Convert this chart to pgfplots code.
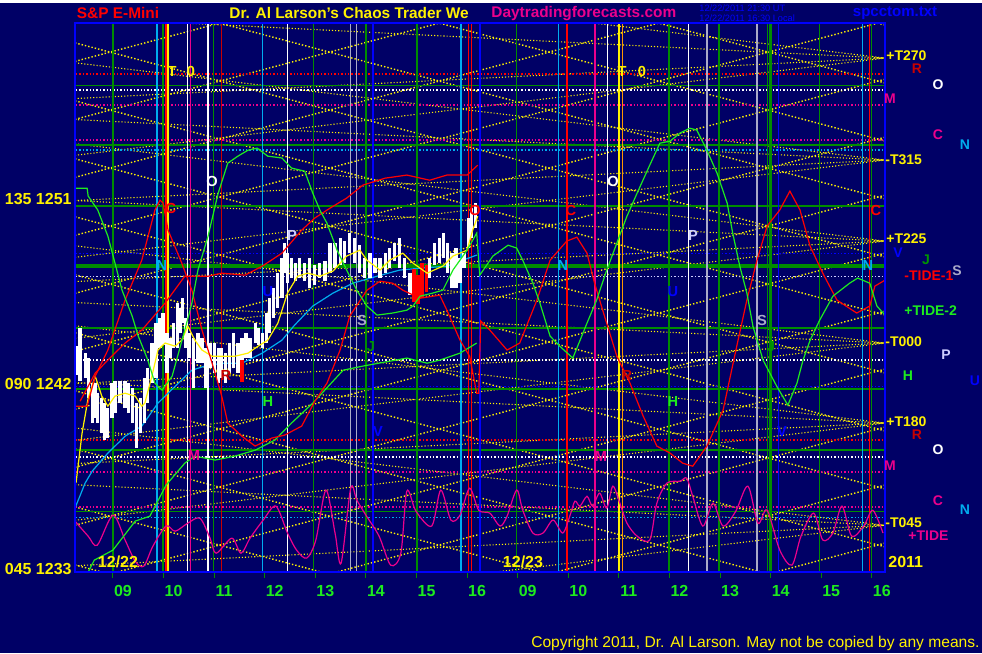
\documentclass[border=0pt]{standalone}
\usepackage{pgfplots}
\pgfplotsset{compat=1.18}
\usepackage{fontspec}
\setmainfont{Liberation Sans}

\definecolor{bg}{RGB}{0,0,102}
\definecolor{frameblue}{RGB}{0,0,255}
\definecolor{dkgreen}{RGB}{0,140,0}
\definecolor{ltgreen}{RGB}{30,235,30}
\definecolor{dkred}{RGB}{200,0,0}
\definecolor{lav}{RGB}{205,205,255}
\definecolor{greyv}{RGB}{170,170,200}
\definecolor{orangev}{RGB}{255,150,0}
\definecolor{jgreen}{RGB}{0,150,0}

\newcommand\fs[1]{\fontsize{#1}{#1}\selectfont\bfseries}
\newcommand\fn[1]{\fontsize{#1}{#1}\selectfont}

\begin{document}
\begin{tikzpicture}
\begin{scope}[x=0.5pt,y=-0.5pt]
\useasboundingbox (0,0) rectangle (982,650);
\fill[bg] (0,0) rectangle (982,650);
\end{scope}

\begin{axis}[
  at={(37.5pt,-284.5pt)}, anchor=south west,
  scale only axis, width=405pt, height=274.5pt,
  xmin=8.25, xmax=24.26, ymin=1232.86, ymax=1259.56,
  axis background/.style={fill=bg},
  axis line style={frameblue, line width=1pt},
  axis on top,
  unbounded coords=jump,
  xtick={9,...,24},
  xticklabels={09,10,11,12,13,14,15,16,09,10,11,12,13,14,15,16},
  xtick pos=bottom, tick align=outside, major tick length=3pt,
  x tick style={dkgreen, line width=0.5pt},
  xticklabel style={text=ltgreen, font=\fs{8}, xshift=5pt},
  ytick={1233,1242,1251},
  yticklabels={045 1233,090 1242,135 1251},
  ytick pos=left, y tick style={draw=none},
  yticklabel style={text=yellow, font=\fs{8}, inner sep=0pt, xshift=1.5pt},
  dotline/.style={densely dotted, line width=0.7pt},
]

% yellow lattice, falling lines
\addplot[yellow, dotline] table {
t p
8.25 1269.88
24.26 1259.47
nan nan
8.25 1267.06
24.26 1256.65
nan nan
8.25 1264.24
24.26 1253.83
nan nan
8.25 1261.42
24.26 1251.01
nan nan
8.25 1258.60
24.26 1248.19
nan nan
8.25 1255.78
24.26 1245.37
nan nan
8.25 1252.96
24.26 1242.55
nan nan
8.25 1250.14
24.26 1239.73
nan nan
8.25 1247.32
24.26 1236.91
nan nan
8.25 1244.50
24.26 1234.09
nan nan
8.25 1241.68
24.26 1231.27
nan nan
8.25 1238.85
24.26 1228.44
nan nan
8.25 1236.03
24.26 1225.62
nan nan
8.25 1233.21
24.26 1222.80
};
% yellow lattice, rising lines
\addplot[yellow, dotline] table {
t p
8.25 1257.70
24.26 1268.11
nan nan
8.25 1254.88
24.26 1265.29
nan nan
8.25 1252.06
24.26 1262.47
nan nan
8.25 1249.24
24.26 1259.65
nan nan
8.25 1246.42
24.26 1256.83
nan nan
8.25 1243.60
24.26 1254.01
nan nan
8.25 1240.78
24.26 1251.19
nan nan
8.25 1237.96
24.26 1248.37
nan nan
8.25 1235.14
24.26 1245.55
nan nan
8.25 1232.32
24.26 1242.73
nan nan
8.25 1229.50
24.26 1239.91
nan nan
8.25 1226.68
24.26 1237.09
nan nan
8.25 1223.86
24.26 1234.27
};
% fans into the right-hand T levels
\addplot[yellow, densely dotted, line width=0.55pt] table {
t p
8.25 1262.59
24.26 1257.86
8.25 1253.13
nan nan
8.25 1259.83
24.26 1257.86
8.25 1255.89
nan nan
8.25 1257.63
24.26 1252.90
8.25 1248.17
nan nan
8.25 1254.87
24.26 1252.90
8.25 1250.93
nan nan
8.25 1253.69
24.26 1248.96
8.25 1244.23
nan nan
8.25 1250.93
24.26 1248.96
8.25 1246.99
nan nan
8.25 1248.73
24.26 1244.00
8.25 1239.27
nan nan
8.25 1245.97
24.26 1244.00
8.25 1242.03
nan nan
8.25 1244.84
24.26 1240.11
8.25 1235.38
nan nan
8.25 1242.08
24.26 1240.11
8.25 1238.14
nan nan
8.25 1239.87
24.26 1235.14
8.25 1230.41
nan nan
8.25 1237.11
24.26 1235.14
8.25 1233.17
};

% horizontal levels
\addplot[dkgreen, line width=0.7pt] table {
t p
8 1256.54
25 1256.54
nan nan
8 1253.63
25 1253.63
nan nan
8 1250.66
25 1250.66
nan nan
8 1247.79
25 1247.79
nan nan
8 1247.69
25 1247.69
nan nan
8 1244.73
25 1244.73
nan nan
8 1241.76
25 1241.76
nan nan
8 1238.79
25 1238.79
nan nan
8 1235.82
25 1235.82
};
\addplot[red, dotline] table {
t p
8 1257.08
25 1257.08
nan nan
8 1239.28
25 1239.28
};
\addplot[white, dotline] table {
t p
8 1256.30
25 1256.30
nan nan
8 1243.17
25 1243.17
nan nan
8 1238.45
25 1238.45
};
\addplot[magenta, dotline] table {
t p
8 1255.57
25 1255.57
nan nan
8 1253.87
25 1253.87
nan nan
8 1237.72
25 1237.72
nan nan
8 1236.02
25 1236.02
};
\addplot[cyan, dotline] table {
t p
8 1253.38
25 1253.38
nan nan
8 1235.53
25 1235.53
};
\addplot[frameblue, dotline] table {
t p
8 1248.37
25 1248.37
nan nan
8 1241.90
25 1241.90
};
\addplot[lav, dotline] table {
t p
8 1247.25
25 1247.25
};

% vertical time lines
\addplot[dkgreen, line width=0.6pt] table {
t p
9.00 1230
9.00 1262
nan nan
9.99 1230
9.99 1262
nan nan
10.98 1230
10.98 1262
nan nan
12.97 1230
12.97 1262
nan nan
15.01 1230
15.01 1262
nan nan
16.98 1230
16.98 1262
nan nan
19.99 1230
19.99 1262
nan nan
20.98 1230
20.98 1262
nan nan
21.94 1230
21.94 1262
nan nan
22.96 1230
22.96 1262
nan nan
24.00 1230
24.00 1262
};
\addplot[dkgreen, line width=1.2pt] table {
t p
14.00 1230
14.00 1262
nan nan
22.00 1230
22.00 1262
};
\addplot[cyan, line width=0.6pt] table {
t p
9.87 1230
9.87 1262
nan nan
11.96 1230
11.96 1262
nan nan
15.88 1230
15.88 1262
nan nan
17.81 1230
17.81 1262
nan nan
23.82 1230
23.82 1262
};
\addplot[red, line width=0.6pt] table {
t p
10.05 1230
10.05 1262
nan nan
16.02 1230
16.02 1262
nan nan
16.08 1230
16.08 1262
nan nan
23.96 1230
23.96 1262
};
\addplot[red, line width=1.2pt] table {
t p
17.97 1230
17.97 1262
};
\addplot[dkred, line width=0.5pt] table {
t p
11.15 1230
11.15 1262
};
\addplot[yellow, line width=0.8pt] table {
t p
10.09 1230
10.09 1262
nan nan
19.00 1230
19.00 1262
};
\addplot[orangev, line width=0.5pt] table {
t p
19.08 1230
19.08 1262
};
\addplot[magenta, line width=0.6pt] table {
t p
10.54 1230
10.54 1262
nan nan
18.53 1230
18.53 1262
};
\addplot[white, line width=0.6pt] table {
t p
10.48 1230
10.48 1262
nan nan
10.88 1230
10.88 1262
nan nan
12.45 1230
12.45 1262
nan nan
18.78 1230
18.78 1262
nan nan
20.38 1230
20.38 1262
};
\addplot[greyv, line width=0.6pt] table {
t p
13.70 1230
13.70 1262
nan nan
13.82 1230
13.82 1262
nan nan
20.74 1230
20.74 1262
nan nan
21.73 1230
21.73 1262
};
\addplot[frameblue, line width=0.6pt] table {
t p
14.14 1230
14.14 1262
nan nan
22.16 1230
22.16 1262
};
\addplot[frameblue, line width=1pt] table {
t p
16.25 1230
16.25 1262
};

% magenta cycle
\addplot[magenta, line width=0.6pt, smooth, tension=0.5] table {
t p
8.25 1235.34
8.51 1234.61
8.69 1234.17
9.00 1235.63
9.24 1234.42
9.44 1233.39
9.61 1233.15
9.79 1234.12
10.05 1235.10
10.23 1234.85
10.48 1235.24
10.72 1235.48
10.92 1234.51
11.04 1233.78
11.35 1234.51
11.53 1233.78
11.71 1234.51
11.97 1235.39
12.22 1236.07
12.45 1234.76
12.63 1233.93
12.83 1233.54
13.01 1234.42
13.21 1236.85
13.39 1234.76
13.51 1233.30
13.70 1236.94
13.82 1236.36
14.00 1235.63
14.26 1234.61
14.49 1233.20
14.69 1233.78
14.81 1236.80
14.99 1235.82
15.30 1235.10
15.48 1236.85
15.68 1235.39
15.86 1235.63
16.05 1236.94
16.23 1235.87
16.45 1235.73
16.65 1235.10
16.79 1235.58
16.98 1236.85
17.10 1235.87
17.30 1234.76
17.50 1234.76
17.70 1235.39
17.89 1234.76
18.03 1235.58
18.13 1236.31
18.23 1236.07
18.37 1236.55
18.48 1236.07
18.62 1236.70
18.76 1235.97
18.88 1237.04
19.02 1236.21
19.16 1235.24
19.36 1234.61
19.61 1234.42
19.75 1236.21
19.95 1237.19
20.21 1237.28
20.34 1237.43
20.46 1236.55
20.66 1235.10
20.86 1236.21
21.06 1235.10
21.31 1235.82
21.55 1237.04
21.75 1235.24
21.93 1235.87
22.18 1233.93
22.42 1233.20
22.60 1234.61
22.85 1235.73
23.03 1234.42
23.23 1234.76
23.41 1236.07
23.60 1234.61
23.84 1235.10
24.02 1235.87
24.22 1234.76
};

% lower green curve
\addplot[ltgreen, line width=0.6pt] table {
t p
8.51 1232.86
8.63 1233.44
9.00 1233.93
9.44 1235.34
9.73 1235.58
10.05 1237.09
10.42 1238.16
10.62 1238.50
11.02 1238.31
11.41 1238.50
11.81 1238.79
12.20 1239.28
12.53 1240.11
12.95 1241.08
13.55 1242.68
13.94 1242.88
14.81 1243.27
15.21 1243.02
15.46 1243.17
15.86 1243.51
16.19 1244.00
};
% cyan average
\addplot[cyan, line width=0.6pt] table {
t p
8.25 1235.97
8.45 1237.19
8.59 1237.77
8.90 1238.65
9.24 1239.47
9.57 1239.96
9.89 1241.08
10.23 1241.90
10.56 1242.68
10.88 1242.93
11.21 1243.02
11.55 1243.02
11.95 1243.51
12.34 1244.14
12.59 1244.87
12.95 1245.80
13.35 1246.43
13.74 1246.91
14.22 1247.25
14.67 1247.55
15.07 1247.64
15.60 1247.74
16.19 1248.28
};

% price bars
\addplot[draw=none, mark=none,
  error bars/.cd, y dir=plus, y explicit, error mark=none,
  error bar style={draw=white, line width=1.6pt}]
  table[x=t, y=lo, y error expr=\thisrow{hi}-\thisrow{lo}] {
t lo hi
8.29 1242.44 1243.85
8.35 1242.15 1244.73
8.45 1242.29 1243.51
8.51 1241.32 1243.27
8.59 1240.11 1242.05
8.65 1240.35 1242.05
8.70 1240.11 1241.56
8.78 1239.62 1241.32
8.84 1239.28 1241.08
8.90 1239.38 1240.83
8.98 1240.35 1242.05
9.04 1240.59 1242.15
9.14 1241.08 1242.15
9.24 1240.83 1242.15
9.30 1240.59 1242.05
9.38 1240.11 1241.81
9.46 1238.89 1241.08
9.54 1239.62 1241.32
9.63 1240.11 1242.29
9.69 1241.08 1242.78
9.77 1242.05 1244.00
9.85 1242.29 1244.97
9.93 1243.75 1245.21
9.99 1243.90 1245.46
10.07 1242.54 1244.48
10.13 1243.27 1244.24
10.19 1243.75 1244.97
10.27 1243.75 1245.94
10.33 1244.48 1245.70
10.38 1244.97 1246.18
10.44 1243.75 1245.21
10.52 1243.27 1244.48
10.60 1241.81 1244.24
10.68 1243.02 1244.48
10.76 1243.02 1244.24
10.84 1241.81 1243.75
10.92 1242.78 1244.00
11.00 1242.54 1244.00
11.08 1242.05 1243.75
11.15 1242.29 1243.75
11.23 1242.05 1243.51
11.31 1242.54 1244.00
11.39 1242.78 1244.48
11.47 1242.54 1244.00
11.55 1243.02 1244.24
11.63 1243.27 1244.48
11.71 1243.27 1244.24
11.81 1244.00 1244.97
11.87 1243.90 1244.73
11.95 1243.75 1244.48
12.03 1244.00 1245.46
12.10 1244.48 1246.18
12.18 1245.21 1246.67
12.26 1245.70 1247.40
12.34 1246.18 1248.13
12.39 1247.40 1248.86
12.45 1246.91 1248.37
12.53 1247.16 1248.13
12.61 1247.01 1247.89
12.69 1247.16 1248.13
12.79 1247.01 1247.89
12.89 1246.67 1248.13
12.99 1246.82 1247.79
13.09 1247.16 1247.89
13.19 1247.01 1247.98
13.29 1247.40 1248.86
13.39 1247.64 1248.86
13.49 1247.79 1249.10
13.58 1247.89 1248.96
13.68 1248.37 1249.35
13.78 1247.89 1249.10
13.88 1247.40 1248.76
13.98 1247.16 1248.13
14.08 1247.16 1248.37
14.18 1247.40 1248.13
14.28 1247.16 1248.13
14.38 1247.40 1248.37
14.47 1247.64 1248.62
14.57 1247.98 1248.86
14.67 1247.64 1249.10
14.77 1247.16 1248.13
14.87 1246.33 1247.40
15.26 1247.16 1248.13
15.36 1247.79 1248.86
15.46 1247.89 1249.10
15.54 1248.13 1249.35
15.62 1247.40 1248.86
15.70 1246.67 1248.37
15.78 1246.67 1248.62
15.86 1246.91 1248.13
15.94 1247.64 1248.37
16.02 1248.62 1250.08
16.09 1249.10 1250.56
16.17 1249.59 1250.81
};
\addplot[draw=none, mark=none,
  error bars/.cd, y dir=plus, y explicit, error mark=none,
  error bar style={draw=red, line width=1.6pt}]
  table[x=t, y=lo, y error expr=\thisrow{hi}-\thisrow{lo}] {
t lo hi
14.95 1246.00 1247.60
15.03 1245.90 1247.30
15.11 1246.20 1247.90
15.19 1246.50 1247.80
11.55 1242.10 1243.20
};

% yellow average over the bars
\addplot[yellow, line width=0.6pt] table {
t p
8.27 1237.19
8.39 1239.62
8.51 1241.32
8.65 1242.39
8.78 1241.42
8.90 1240.93
9.04 1241.42
9.24 1241.56
9.44 1241.42
9.57 1240.93
9.63 1241.08
9.77 1242.39
9.89 1243.66
10.03 1244.00
10.23 1243.85
10.36 1244.14
10.48 1244.82
10.62 1244.14
10.76 1243.66
10.96 1243.36
11.15 1243.36
11.41 1243.36
11.67 1243.51
11.87 1243.85
12.06 1244.14
12.26 1244.97
12.45 1246.43
12.65 1247.25
12.85 1247.40
13.09 1247.25
13.35 1247.50
13.62 1248.23
13.88 1248.52
14.02 1248.03
14.28 1247.55
14.47 1248.03
14.73 1248.37
14.93 1247.89
15.21 1247.40
15.52 1247.74
15.72 1248.23
16.00 1248.52
16.11 1249.49
16.21 1250.17
};

% red cycles
\addplot[red, line width=0.6pt] table {
t p
8.35 1241.17
8.65 1242.54
8.90 1243.17
9.24 1244.00
9.57 1244.63
10.03 1245.94
10.42 1247.25
10.88 1247.25
11.15 1247.40
11.61 1247.30
11.95 1247.74
12.34 1248.37
12.73 1249.49
12.99 1250.08
13.29 1250.56
13.62 1251.05
13.94 1251.68
14.38 1252.02
14.81 1252.17
15.26 1251.92
15.60 1252.17
16.00 1252.17
16.21 1252.65
};
\addplot[red, line width=0.6pt] table {
t p
8.25 1240.93
8.49 1240.93
8.65 1242.39
8.90 1243.66
9.24 1246.09
9.57 1248.03
9.83 1250.47
9.93 1250.95
9.99 1250.81
10.09 1249.49
10.36 1247.89
10.56 1246.57
10.76 1244.63
10.96 1243.02
11.15 1241.42
11.27 1240.11
11.55 1239.47
11.81 1238.99
12.14 1239.38
12.39 1239.52
12.73 1239.96
12.99 1241.17
13.23 1242.05
13.49 1243.66
13.68 1245.31
14.02 1246.57
14.28 1247.01
14.53 1246.91
14.73 1246.57
15.07 1246.18
15.46 1246.33
15.60 1245.60
15.86 1244.14
16.05 1243.36
16.19 1241.56
16.23 1241.56
16.27 1245.07
16.45 1244.63
16.79 1243.66
17.04 1244.00
17.38 1246.09
17.64 1248.03
17.97 1248.96
18.17 1249.15
18.37 1248.37
18.52 1246.91
18.68 1245.60
18.96 1243.36
19.22 1242.05
19.48 1240.45
19.75 1238.99
20.01 1238.65
20.26 1238.16
20.46 1238.01
20.74 1238.99
21.06 1240.74
21.33 1243.85
21.53 1246.09
21.73 1248.03
21.93 1249.69
22.18 1250.47
22.38 1251.39
22.58 1250.47
22.78 1248.71
23.03 1247.40
23.31 1246.09
23.70 1245.46
23.96 1245.80
24.06 1246.77
24.26 1247.06
};
% green cycle
\addplot[ltgreen, line width=0.6pt] table {
t p
8.25 1251.53
8.49 1251.53
8.51 1251.15
8.70 1250.47
8.90 1249.20
9.04 1247.89
9.18 1246.57
9.38 1245.31
9.50 1244.34
9.69 1243.17
9.83 1242.05
9.97 1241.71
10.17 1242.39
10.42 1244.63
10.56 1245.94
10.68 1247.55
10.88 1249.20
11.08 1251.29
11.27 1252.75
11.47 1253.09
11.67 1253.38
11.85 1253.48
12.06 1253.09
12.34 1253.00
12.53 1252.51
12.79 1252.36
12.95 1251.29
13.09 1250.47
13.23 1249.83
13.43 1248.52
13.62 1247.55
13.82 1246.57
14.02 1245.80
14.22 1245.36
14.53 1245.46
14.81 1245.60
14.93 1245.80
15.07 1246.28
15.32 1246.43
15.52 1246.57
15.72 1247.55
16.00 1248.52
16.19 1249.35
16.25 1247.30
16.51 1248.23
16.81 1248.76
16.98 1248.62
17.10 1248.03
17.30 1246.91
17.44 1245.94
17.64 1244.34
17.83 1243.85
18.09 1243.27
18.37 1244.97
18.56 1246.09
18.76 1247.55
18.96 1248.86
19.16 1250.17
19.36 1251.29
19.61 1252.65
19.81 1253.72
20.01 1253.82
20.21 1254.21
20.40 1254.45
20.54 1254.36
20.74 1253.38
20.94 1252.26
21.14 1250.81
21.25 1249.35
21.39 1247.74
21.53 1246.43
21.65 1244.82
21.85 1243.17
22.12 1241.90
22.34 1240.98
22.52 1242.05
22.64 1243.17
22.78 1244.14
22.97 1245.12
23.23 1246.28
23.56 1246.91
23.72 1247.16
23.96 1246.91
24.10 1245.80
24.26 1245.36
};
\end{axis}

\begin{scope}[x=0.5pt,y=-0.5pt]
% headings
\node[text=red, font=\fs{7.7}] at (118,10) {S\&P E-Mini};
\node[text=yellow, font=\fs{7.7}, anchor=west, inner sep=0] at (229,10) {Dr. Al Larson's Chaos Trader We};
\node[text=magenta, font=\fs{7.7}, anchor=west, inner sep=0] at (491,10) {Daytradingforecasts.com};
\node[text=frameblue, font=\fn{4.6}, anchor=west, inner sep=0] at (699,5) {12/22/2011 21:30 UT};
\node[text=frameblue, font=\fn{4.6}, anchor=west, inner sep=0] at (699,15) {12/22/2011 16:30 Local};
\node[text=frameblue, font=\fs{7.5}] at (895,10) {spcctom.txt};
\node[text=yellow, font=\fn{7.8}, anchor=east, inner sep=0] at (980,640) {Copyright 2011, Dr. Al Larson. May not be copied by any means.};
\node[text=yellow, font=\fs{8}] at (118,559) {12/22};
\node[text=yellow, font=\fs{8}] at (523,559) {12/23};
\node[text=yellow, font=\fs{8}, anchor=west, inner sep=0] at (888,559) {2011};

% letters in the plot
\begin{scope}[every node/.style={font=\fs{7.3}, inner sep=0}]
\node[text=yellow] at (172,68) {T};
\node[text=yellow] at (191,68) {0};
\node[text=yellow] at (622,68) {T};
\node[text=yellow] at (642,68) {0};
\node[text=white] at (212,178) {O};
\node[text=white] at (613,178) {O};
\node[text=red] at (171,205) {C};
\node[text=red] at (571,207) {C};
\node[text=red] at (876,207) {C};
\node[text=red] at (475,207) {O};
\node[text=cyan] at (162,262) {N};
\node[text=cyan] at (563,262) {N};
\node[text=cyan] at (868,262) {N};
\node[text=lav] at (292,232) {P};
\node[text=lav] at (693,232) {P};
\node[text=frameblue] at (268,288) {U};
\node[text=frameblue] at (673,288) {U};
\node[text=greyv] at (362,317) {S};
\node[text=greyv] at (762,317) {S};
\node[text=jgreen] at (371,343) {J};
\node[text=jgreen] at (771,343) {J};
\node[text=dkred] at (226,372) {R};
\node[text=dkred] at (627,372) {R};
\node[text=ltgreen] at (268,398) {H};
\node[text=ltgreen] at (673,398) {H};
\node[text=frameblue] at (378,428) {V};
\node[text=frameblue] at (782,428) {V};
\node[text=magenta] at (194,452) {M};
\node[text=magenta] at (601,453) {M};
\end{scope}

% labels to the right of the plot
\begin{scope}[every node/.style={font=\fs{7}, inner sep=0}]
\node[text=yellow, anchor=west] at (886,53) {+T270};
\node[text=dkred] at (917,66) {R};
\node[text=white] at (938,82) {O};
\node[text=magenta] at (890,96) {M};
\node[text=magenta] at (938,132) {C};
\node[text=cyan] at (965,142) {N};
\node[text=yellow, anchor=west] at (885,157) {-T315};
\node[text=yellow, anchor=west] at (886,236) {+T225};
\node[text=frameblue] at (898,250) {V};
\node[text=jgreen] at (926,257) {J};
\node[text=greyv] at (957,268) {S};
\node[text=red, anchor=west] at (904,273) {-TIDE-1};
\node[text=ltgreen, anchor=west] at (904,307) {+TIDE-2};
\node[text=yellow, anchor=west] at (885,339) {-T000};
\node[text=lav] at (946,352) {P};
\node[text=ltgreen] at (908,373) {H};
\node[text=frameblue] at (975,378) {U};
\node[text=yellow, anchor=west] at (886,419) {+T180};
\node[text=dkred] at (917,432) {R};
\node[text=white] at (938,447) {O};
\node[text=magenta] at (890,463) {M};
\node[text=magenta] at (938,498) {C};
\node[text=cyan] at (965,507) {N};
\node[text=yellow, anchor=west] at (885,520) {-T045};
\node[text=magenta, anchor=west] at (908,533) {+TIDE};
\end{scope}
\end{scope}
\end{tikzpicture}
\end{document}
